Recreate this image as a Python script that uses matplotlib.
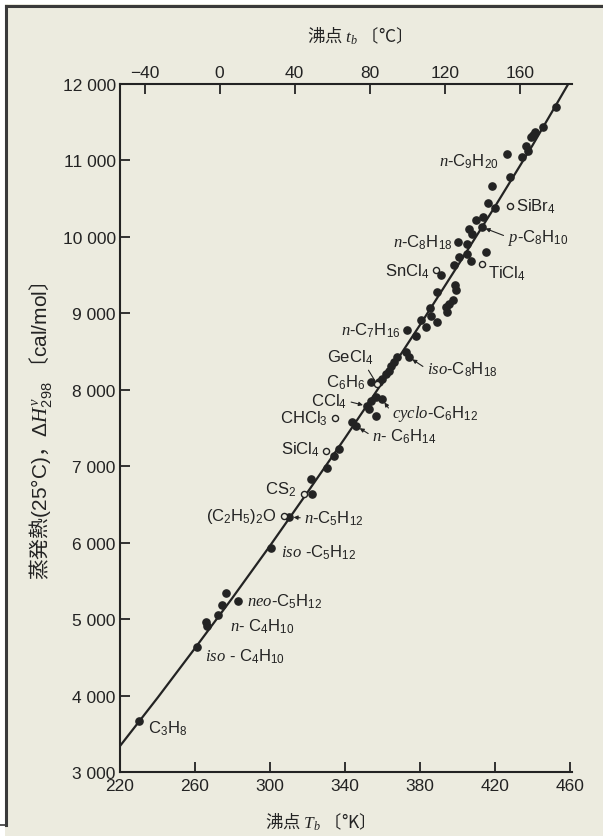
import matplotlib
matplotlib.use("Agg")

import matplotlib.pyplot as plt
from matplotlib.lines import Line2D
from matplotlib.ticker import FixedLocator, FuncFormatter

plt.rcParams["font.family"] = ["Liberation Sans", "Noto Sans CJK JP", "DejaVu Sans"]
plt.rcParams["mathtext.fontset"] = "custom"
plt.rcParams["mathtext.rm"] = "Liberation Sans"
plt.rcParams["mathtext.it"] = "Liberation Serif:italic"
plt.rcParams["mathtext.bf"] = "Liberation Sans:bold"

PAPER = "#ecebdf"
INK = "#232323"

# smooth curve as drawn in the figure
curve_T = [220, 240, 260, 280, 300, 320, 340, 360, 380, 400, 420, 440, 459]
curve_H = [3340, 3970, 4620, 5280, 5960, 6660, 7370, 8100, 8850, 9620, 10400, 11200, 12000]

# unlabelled compounds (filled dots)
dots_T = [452.6, 445.7, 441.5, 440.4, 439.3, 436.7, 437.7, 434.5, 428.2, 418.6,
          416.0, 420.2, 413.8, 409.6, 405.9, 407.5, 404.8, 414.9, 404.8, 400.6,
          406.9, 397.9, 391.0, 398.4, 399.0, 388.9, 397.4, 395.3, 393.7, 394.2,
          385.2, 385.7, 388.9, 380.4, 383.0, 377.7, 372.4, 367.6, 366.0, 364.5,
          363.4, 361.8, 359.7, 358.1, 356.5, 353.8, 356.5, 352.8, 343.7, 336.8,
          334.2, 330.5, 322.0, 322.5, 276.3, 274.2, 265.7, 266.2]
dots_H = [11698, 11437, 11371, 11332, 11306, 11188, 11123, 11044, 10783, 10665,
          10443, 10377, 10259, 10220, 10102, 10037, 9906, 9802, 9775, 9736,
          9684, 9632, 9501, 9370, 9305, 9278, 9174, 9121, 9082, 9017,
          9069, 8964, 8886, 8912, 8821, 8703, 8494, 8428, 8363, 8310,
          8245, 8206, 8140, 8101, 7905, 7853, 7657, 7748, 7578, 7225,
          7133, 6976, 6832, 6636, 5341, 5184, 4962, 4910]

# labelled compounds
names = ["C3H8", "iso-C4H10", "n-C4H10", "neo-C5H12", "iso-C5H12", "n-C5H12",
         "(C2H5)2O", "CS2", "SiCl4", "CHCl3", "n-C6H14", "CCl4", "cyclo-C6H12",
         "C6H6", "GeCl4", "iso-C8H18", "n-C7H16", "SnCl4", "TiCl4", "n-C8H18",
         "p-C8H10", "SiBr4", "n-C9H20"]
named_T = [230.1, 260.9, 272.0, 282.7, 300.7, 310.3, 307.6, 318.2, 329.9, 334.7,
           345.9, 351.7, 359.7, 353.8, 357.0, 374.0, 372.9, 388.3, 412.8, 400.0,
           412.8, 428.2, 426.1]
named_H = [3667, 4635, 5054, 5237, 5930, 6335, 6348, 6636, 7199, 7630,
           7526, 7787, 7879, 8101, 8075, 8428, 8781, 9566, 9645, 9932,
           10129, 10406, 11083]
hollow = ["(C2H5)2O", "CS2", "SiCl4", "CHCl3", "GeCl4", "SnCl4", "TiCl4", "SiBr4"]

TEX = {
    "C3H8": r"C$_3$H$_8$",
    "iso-C4H10": r"$\mathit{iso}$ - C$_4$H$_{10}$",
    "n-C4H10": r"$\mathit{n}$- C$_4$H$_{10}$",
    "neo-C5H12": r"$\mathit{neo}$-C$_5$H$_{12}$",
    "iso-C5H12": r"$\mathit{iso}$ -C$_5$H$_{12}$",
    "n-C5H12": r"$\mathit{n}$-C$_5$H$_{12}$",
    "(C2H5)2O": r"(C$_2$H$_5$)$_2$O",
    "CS2": r"CS$_2$",
    "SiCl4": r"SiCl$_4$",
    "CHCl3": r"CHCl$_3$",
    "n-C6H14": r"$\mathit{n}$- C$_6$H$_{14}$",
    "CCl4": r"CCl$_4$",
    "cyclo-C6H12": r"$\mathit{cyclo}$-C$_6$H$_{12}$",
    "C6H6": r"C$_6$H$_6$",
    "GeCl4": r"GeCl$_4$",
    "iso-C8H18": r"$\mathit{iso}$-C$_8$H$_{18}$",
    "n-C7H16": r"$\mathit{n}$-C$_7$H$_{16}$",
    "SnCl4": r"SnCl$_4$",
    "TiCl4": r"TiCl$_4$",
    "n-C8H18": r"$\mathit{n}$-C$_8$H$_{18}$",
    "p-C8H10": r"$\mathit{p}$-C$_8$H$_{10}$",
    "SiBr4": r"SiBr$_4$",
    "n-C9H20": r"$\mathit{n}$-C$_9$H$_{20}$",
}

# label placement: offset in pixels, alignment, arrow?
PLACE = {
    "C3H8": (9, -7, "left", False),
    "iso-C4H10": (8, -9, "left", False),
    "n-C4H10": (12, -11, "left", False),
    "neo-C5H12": (9, 0, "left", False),
    "iso-C5H12": (10, -4, "left", False),
    "n-C5H12": (15, -1, "left", True),
    "(C2H5)2O": (-8, 1, "right", False),
    "CS2": (-8, 5, "right", False),
    "SiCl4": (-6, 2, "right", False),
    "CHCl3": (-7, 0, "right", False),
    "n-C6H14": (16, -10, "left", True),
    "CCl4": (-20, 5, "right", True),
    "cyclo-C6H12": (10, -14, "left", True),
    "C6H6": (-6, 0, "right", False),
    "GeCl4": (-4, 27, "right", True),
    "iso-C8H18": (18, -12, "left", True),
    "n-C7H16": (-6, 0, "right", False),
    "SnCl4": (-6, -1, "right", False),
    "TiCl4": (6, -9, "left", False),
    "n-C8H18": (-5, 0, "right", False),
    "p-C8H10": (26, -10, "left", True),
    "SiBr4": (6, 0, "left", False),
    "n-C9H20": (-8, -7, "right", False),
}

fig = plt.figure(figsize=(6.03, 8.37), dpi=100)
fig.patch.set_facecolor(PAPER)

# scanned-page frame (white margin + dark edge on the left and top)
fig.add_artist(plt.Rectangle((0, 0), 5 / 603, 1, transform=fig.transFigure,
                             facecolor="white", edgecolor="none"))
fig.add_artist(plt.Rectangle((0, 1 - 5 / 837), 1, 5 / 837, transform=fig.transFigure,
                             facecolor="white", edgecolor="none"))
fig.add_artist(Line2D([6 / 603, 6 / 603], [11 / 837, 1 - 7 / 837],
                      transform=fig.transFigure, color="#3a3a3a", lw=2.2))
fig.add_artist(Line2D([6 / 603, 1], [1 - 7 / 837, 1 - 7 / 837],
                      transform=fig.transFigure, color="#3a3a3a", lw=2.2))
fig.add_artist(Line2D([0, 6 / 603], [11 / 837, 11 / 837],
                      transform=fig.transFigure, color="#3a3a3a", lw=1.2))

ax = fig.add_axes([120 / 603, 1 - 773 / 837, 452 / 603, 688 / 837])
ax.set_facecolor(PAPER)
ax.set_xlim(220, 461)
ax.set_ylim(3000, 12000)

for side in ("left", "bottom"):
    ax.spines[side].set_linewidth(1.5)
    ax.spines[side].set_color(INK)
ax.spines["right"].set_visible(False)
ax.spines["top"].set_visible(False)

ax.xaxis.set_major_locator(FixedLocator([220, 260, 300, 340, 380, 420, 460]))
ax.yaxis.set_major_locator(FixedLocator(range(3000, 12001, 1000)))
ax.yaxis.set_major_formatter(FuncFormatter(lambda v, p: f"{v:,.0f}".replace(",", " ")))
ax.tick_params(direction="in", length=7, width=1.3, colors=INK, labelsize=12.5,
               labelcolor=INK)
ax.tick_params(axis="y", pad=3)
ax.tick_params(axis="x", pad=4)

top = ax.secondary_xaxis("top", functions=(lambda k: k - 273.15, lambda c: c + 273.15))
top.xaxis.set_major_locator(FixedLocator([-40, 0, 40, 80, 120, 160]))
top.tick_params(direction="in", length=7, width=1.3, colors=INK, labelsize=12.5,
                labelcolor=INK, pad=3)
top.spines["top"].set_linewidth(1.5)
top.spines["top"].set_color(INK)

ax.plot(curve_T, curve_H, color=INK, lw=1.6, solid_capstyle="round", zorder=2)
ax.plot(dots_T, dots_H, "o", ms=5.2, color=INK, mec=INK, zorder=3)

for name, t, h in zip(names, named_T, named_H):
    if name in hollow:
        ax.plot(t, h, "o", ms=4.4, mfc=PAPER, mec=INK, mew=1.0, zorder=4)
    else:
        ax.plot(t, h, "o", ms=5.2, color=INK, zorder=3)
    dx, dy, ha, arrow = PLACE[name]
    props = None
    if arrow:
        props = dict(arrowstyle="-|>", lw=0.8, color=INK, mutation_scale=6,
                     shrinkA=1, shrinkB=3,
                     relpos=(0.0, 0.5) if ha == "left" else (1.0, 0.5))
        if name == "GeCl4":
            props["relpos"] = (0.85, 0.0)
            props["arrowstyle"] = "-"
    ax.annotate(TEX[name], (t, h), xytext=(dx, dy), textcoords="offset pixels",
                ha=ha, va="center", fontsize=12, color=INK, arrowprops=props,
                zorder=5)

jp = dict(family="Noto Sans CJK JP", color=INK)
fig.text(355 / 603, 1 - 36 / 837, r"沸点 $t_b$ 〔°C〕", ha="center", va="center",
         fontsize=12.5, **jp)
fig.text(315 / 603, 1 - 822 / 837, r"沸点 $T_b$ 〔°K〕", ha="center", va="center",
         fontsize=12.5, **jp)
fig.text(41 / 603, 1 - 431 / 837,
         r"蒸発熱$\mathrm{(25°C)}$，$\mathit{\Delta H}^{v}_{298}$ 〔$\mathrm{cal/mol}$〕",
         ha="center", va="center", rotation=90, fontsize=15, **jp)

fig.savefig("out.png", dpi=100, facecolor=fig.get_facecolor())
